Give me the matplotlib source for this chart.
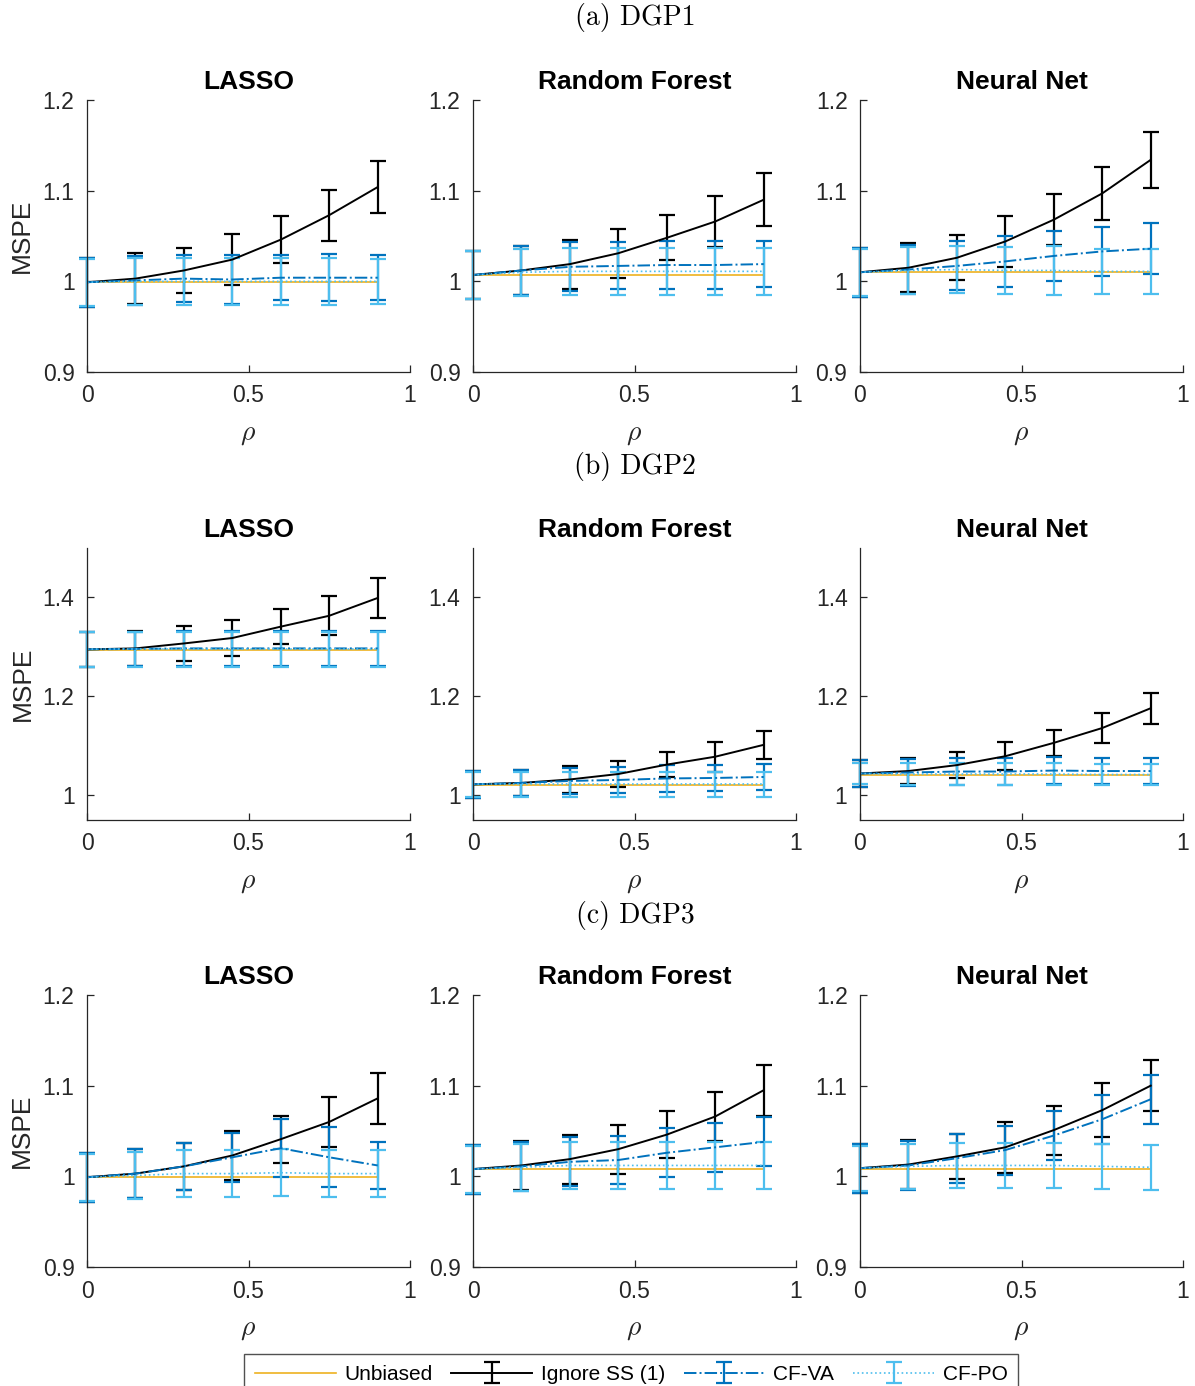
import matplotlib
matplotlib.use('Agg')
import matplotlib.pyplot as plt
from matplotlib.ticker import FormatStrFormatter
import numpy as np

plt.rcParams['font.family'] = ['Liberation Sans', 'DejaVu Sans']
plt.rcParams['mathtext.fontset'] = 'cm'

W, H = 1195, 1386

RHO = [0, 0.15, 0.3, 0.45, 0.6, 0.75, 0.9]
MODELS = ['LASSO', 'Random Forest', 'Neural Net']
DGPS = ['(a) DGP1', '(b) DGP2', '(c) DGP3']
SERIES_NAMES = ['Unbiased', 'Ignore SS (1)', 'CF-VA', 'CF-PO']

# one row per panel: DGP1 (LASSO, RF, NN), DGP2 (...), DGP3 (...)
UNBIASED = [0.999, 1.007, 1.010,
            1.294, 1.020, 1.042,
            0.999, 1.008, 1.008]

IGNORE = [
    [0.999, 1.003, 1.012, 1.024, 1.046, 1.073, 1.104],
    [1.007, 1.012, 1.019, 1.031, 1.048, 1.066, 1.090],
    [1.010, 1.015, 1.026, 1.044, 1.068, 1.097, 1.134],
    [1.295, 1.297, 1.307, 1.318, 1.341, 1.363, 1.399],
    [1.022, 1.025, 1.032, 1.043, 1.062, 1.078, 1.102],
    [1.044, 1.049, 1.061, 1.079, 1.106, 1.136, 1.176],
    [0.999, 1.003, 1.011, 1.023, 1.041, 1.060, 1.086],
    [1.008, 1.012, 1.019, 1.030, 1.046, 1.066, 1.095],
    [1.009, 1.013, 1.022, 1.032, 1.051, 1.073, 1.100],
]
IGNORE_ERR = [
    [0.027, 0.028, 0.025, 0.028, 0.026, 0.028, 0.029],
    [0.027, 0.027, 0.027, 0.027, 0.025, 0.028, 0.029],
    [0.027, 0.027, 0.025, 0.028, 0.028, 0.029, 0.031],
    [0.035, 0.035, 0.036, 0.037, 0.035, 0.039, 0.040],
    [0.027, 0.027, 0.027, 0.027, 0.026, 0.030, 0.028],
    [0.027, 0.027, 0.027, 0.028, 0.026, 0.030, 0.031],
    [0.027, 0.027, 0.026, 0.027, 0.026, 0.028, 0.028],
    [0.027, 0.027, 0.027, 0.027, 0.026, 0.027, 0.028],
    [0.027, 0.027, 0.025, 0.028, 0.027, 0.030, 0.028],
]

CF_VA = [
    [0.999, 1.001, 1.003, 1.002, 1.004, 1.004, 1.004],
    [1.007, 1.012, 1.016, 1.017, 1.018, 1.018, 1.019],
    [1.010, 1.013, 1.017, 1.022, 1.028, 1.033, 1.036],
    [1.295, 1.296, 1.297, 1.297, 1.297, 1.297, 1.297],
    [1.022, 1.025, 1.029, 1.031, 1.034, 1.035, 1.037],
    [1.044, 1.046, 1.048, 1.048, 1.050, 1.049, 1.049],
    [0.999, 1.003, 1.011, 1.021, 1.031, 1.021, 1.012],
    [1.008, 1.011, 1.016, 1.018, 1.026, 1.032, 1.038],
    [1.009, 1.012, 1.020, 1.029, 1.045, 1.063, 1.085],
]
CF_VA_ERR = [
    [0.027, 0.027, 0.026, 0.027, 0.025, 0.026, 0.025],
    [0.027, 0.027, 0.027, 0.026, 0.026, 0.026, 0.025],
    [0.027, 0.027, 0.027, 0.028, 0.028, 0.027, 0.028],
    [0.035, 0.035, 0.035, 0.035, 0.035, 0.035, 0.035],
    [0.027, 0.027, 0.027, 0.027, 0.027, 0.027, 0.027],
    [0.027, 0.027, 0.027, 0.027, 0.027, 0.027, 0.027],
    [0.027, 0.027, 0.026, 0.027, 0.032, 0.033, 0.026],
    [0.027, 0.027, 0.027, 0.027, 0.027, 0.027, 0.027],
    [0.027, 0.027, 0.027, 0.027, 0.027, 0.027, 0.027],
]

CF_PO = [
    [0.999, 1.000, 1.000, 1.000, 1.000, 1.000, 1.000],
    [1.007, 1.010, 1.011, 1.011, 1.011, 1.011, 1.011],
    [1.010, 1.012, 1.013, 1.012, 1.012, 1.011, 1.011],
    [1.295, 1.295, 1.295, 1.295, 1.295, 1.295, 1.295],
    [1.022, 1.022, 1.022, 1.022, 1.022, 1.022, 1.022],
    [1.044, 1.043, 1.043, 1.043, 1.043, 1.042, 1.042],
    [0.999, 1.001, 1.003, 1.003, 1.004, 1.003, 1.003],
    [1.008, 1.010, 1.012, 1.012, 1.012, 1.012, 1.012],
    [1.009, 1.011, 1.012, 1.012, 1.012, 1.011, 1.010],
]
CF_PO_ERR = [
    [0.026, 0.026, 0.026, 0.026, 0.026, 0.026, 0.025],
    [0.026, 0.026, 0.026, 0.026, 0.026, 0.026, 0.026],
    [0.026, 0.026, 0.026, 0.026, 0.027, 0.025, 0.025],
    [0.036, 0.036, 0.036, 0.036, 0.036, 0.036, 0.036],
    [0.025, 0.025, 0.025, 0.025, 0.025, 0.025, 0.025],
    [0.022, 0.022, 0.022, 0.022, 0.022, 0.022, 0.022],
    [0.026, 0.026, 0.026, 0.026, 0.026, 0.026, 0.026],
    [0.026, 0.026, 0.026, 0.026, 0.026, 0.026, 0.026],
    [0.025, 0.025, 0.025, 0.025, 0.025, 0.025, 0.025],
]

YLIMS = [(0.9, 1.2), (0.95, 1.5), (0.9, 1.2)]
YTICKS = [[0.9, 1.0, 1.1, 1.2], [1.0, 1.2, 1.4], [0.9, 1.0, 1.1, 1.2]]

COLOR_UNBIASED = '#EDB120'
COLOR_IGNORE = 'black'
COLOR_VA = '#0072BD'
COLOR_PO = '#4DBEEE'
AX_GRAY = '#262626'

# pixel layout of the panels
COL_LEFT = [87, 473, 860]
COL_WIDTH = 323
ROW_TOP = [100, 548, 995]
ROW_HEIGHT = 272
SECTION_Y = [18, 467, 915]

fig = plt.figure(figsize=(W / 100, H / 100), dpi=100)

handles = None
for r in range(3):
    fig.text(635 / W, 1 - SECTION_Y[r] / H, DGPS[r], family='cmr10', fontsize=20,
             ha='center', va='center')
    for c in range(3):
        i = r * 3 + c
        ax = fig.add_axes([COL_LEFT[c] / W, 1 - (ROW_TOP[r] + ROW_HEIGHT) / H,
                           COL_WIDTH / W, ROW_HEIGHT / H])
        p_unb, = ax.plot(RHO, [UNBIASED[i]] * len(RHO), color=COLOR_UNBIASED, lw=1.2)
        p_ign = ax.errorbar(RHO, IGNORE[i], yerr=IGNORE_ERR[i], color=COLOR_IGNORE, lw=1.4,
                            elinewidth=1.6, capsize=6, capthick=1.6)
        p_va = ax.errorbar(RHO, CF_VA[i], yerr=CF_VA_ERR[i], color=COLOR_VA, lw=1.4, ls='-.',
                           elinewidth=1.6, capsize=6, capthick=1.6)
        p_po = ax.errorbar(RHO, CF_PO[i], yerr=CF_PO_ERR[i], color=COLOR_PO, lw=1.2, ls=':',
                           elinewidth=1.6, capsize=6, capthick=1.6)
        handles = (p_unb, p_ign, p_va, p_po)
        # caps at rho = 0 stick out past the y axis, as in the original
        for cont in (p_ign, p_va, p_po):
            for art in cont.lines[1]:
                art.set_clip_on(False)
            for art in cont.lines[2]:
                art.set_clip_on(False)

        ax.set_xlim(0, 1)
        ax.set_ylim(*YLIMS[r])
        ax.set_xticks([0, 0.5, 1])
        ax.set_yticks(YTICKS[r])
        ax.xaxis.set_major_formatter(FormatStrFormatter('%g'))
        ax.yaxis.set_major_formatter(FormatStrFormatter('%g'))
        for s in ['top', 'right']:
            ax.spines[s].set_visible(False)
        for s in ['left', 'bottom']:
            ax.spines[s].set_color(AX_GRAY)
            ax.spines[s].set_linewidth(0.9)
        ax.tick_params(direction='in', length=5, width=0.9, colors=AX_GRAY,
                       labelsize=16.5, pad=9)
        ax.set_title(MODELS[c], fontsize=19, fontweight='bold', pad=8)
        ax.set_xlabel(r'$\rho$', fontsize=20, color=AX_GRAY, labelpad=10)
        if c == 0:
            ax.set_ylabel('MSPE', fontsize=19, color=AX_GRAY, labelpad=6)

fig.legend(handles, SERIES_NAMES, loc='lower center', bbox_to_anchor=(631 / W, -0.006),
           ncol=4, fontsize=15, frameon=True, fancybox=False, edgecolor=AX_GRAY,
           handlelength=3.9, columnspacing=0.9, handletextpad=0.4, borderpad=0.5,
           borderaxespad=0)

plt.savefig('out.png', dpi=100)
